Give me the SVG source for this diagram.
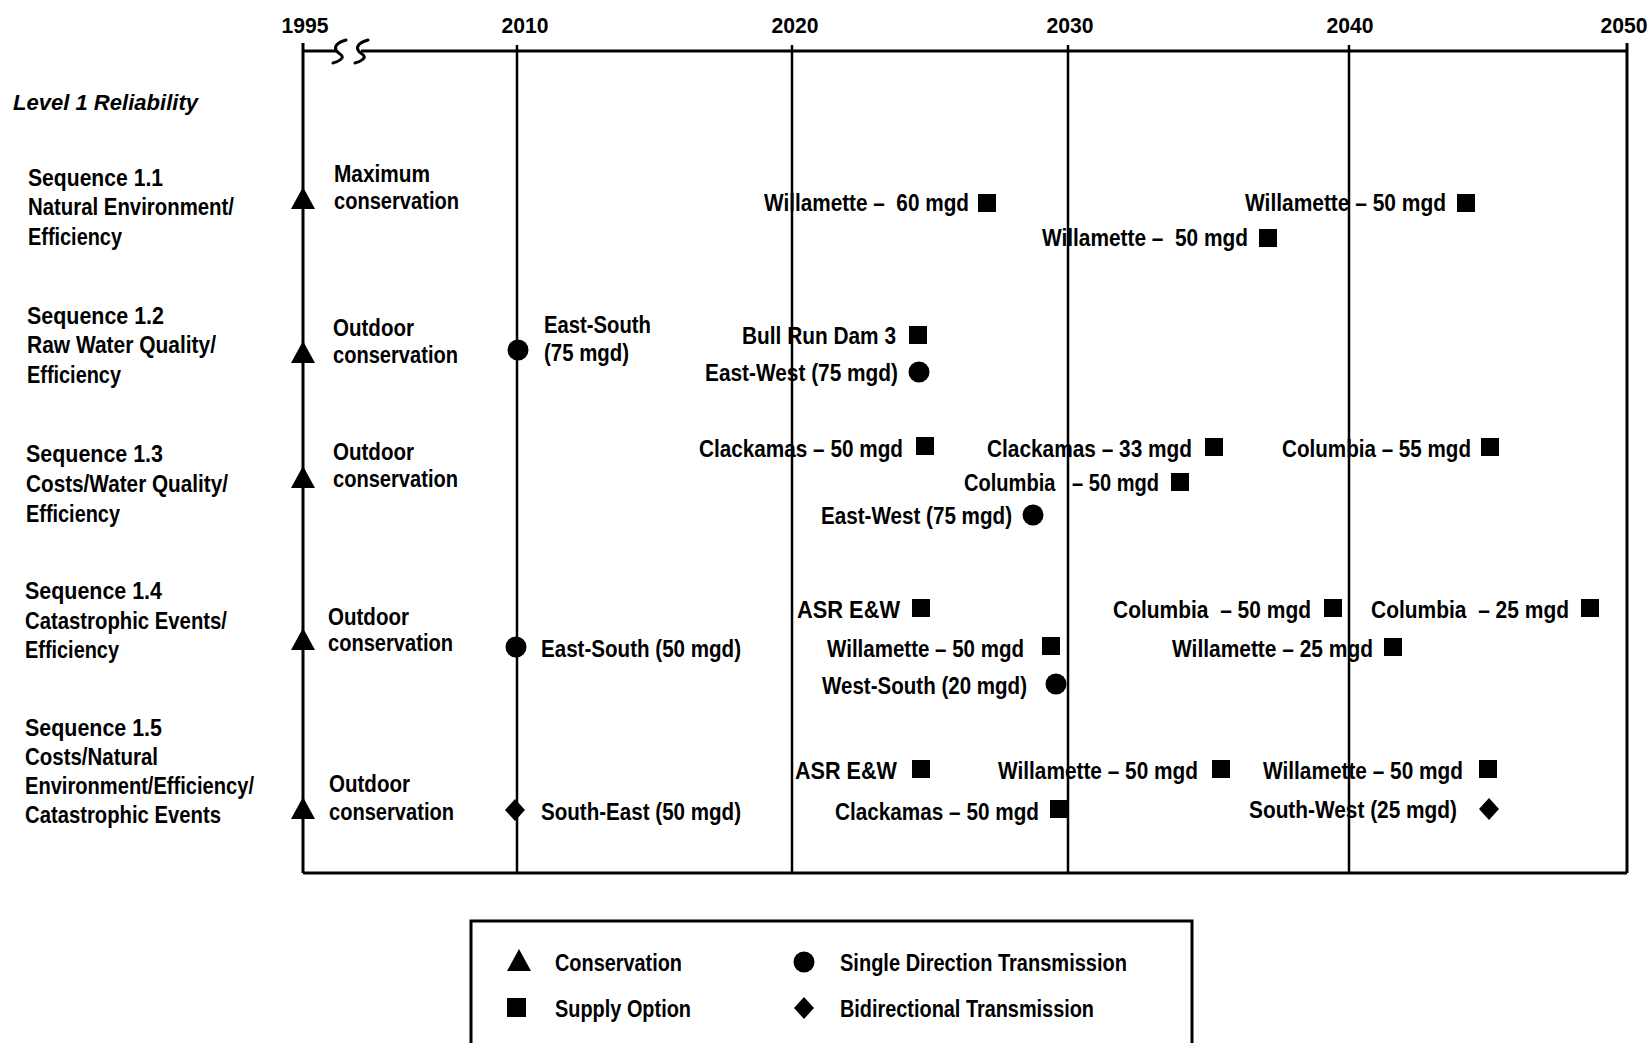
<svg xmlns="http://www.w3.org/2000/svg" xmlns:xlink="http://www.w3.org/1999/xlink" width="1650" height="1043" viewBox="0 0 1650 1043">
<style>
.t{font-family:"Liberation Sans",Arial,sans-serif;font-weight:bold;font-size:23px;fill:#000;white-space:pre}
.yr{font-size:22px;text-anchor:middle}
.it{font-style:italic;font-size:22px}
.ln{stroke:#000;stroke-width:2.5;fill:none}
.fr{stroke:#000;stroke-width:3;fill:none}
.brk{stroke:#000;stroke-width:3;fill:none;stroke-linecap:round;stroke-linejoin:round}
</style>
<defs>
<path id="tri" d="M0,-13 L12,9 L-12,9 Z" fill="#000"/>
<rect id="sq" x="-9" y="-9" width="18" height="18" fill="#000"/>
<circle id="dot" r="10.5" fill="#000"/>
<path id="dia" d="M0,-11 L10,0 L0,11 L-10,0 Z" fill="#000"/>
</defs>
<rect width="1650" height="1043" fill="#fff"/>

<g id="connectors">
  <line class="fr" x1="303" y1="43" x2="303" y2="873"/>
  <line class="fr" x1="1627" y1="43" x2="1627" y2="873"/>
  <line class="fr" x1="303" y1="873" x2="1627" y2="873"/>
  <line class="fr" x1="303" y1="51" x2="336" y2="51"/>
  <path class="brk" d="M346,40 C338,42 334,46 336,50 C338,54 344,55 342,58 C340,61 336,62 333,63"/>
  <path class="brk" d="M368,40 C360,42 356,46 358,50 C360,54 366,55 364,58 C362,61 358,62 355,63"/>
  <line class="fr" x1="361" y1="51" x2="1627" y2="51"/>
  <line class="ln" x1="517" y1="45" x2="517" y2="873"/>
  <line class="ln" x1="792" y1="45" x2="792" y2="873"/>
  <line class="ln" x1="1068" y1="45" x2="1068" y2="873"/>
  <line class="ln" x1="1349" y1="45" x2="1349" y2="873"/>
</g>

<g id="axis-years">
  <text class="t yr" x="305" y="33" textLength="47" lengthAdjust="spacingAndGlyphs">1995</text>
  <text class="t yr" x="525" y="33" textLength="47" lengthAdjust="spacingAndGlyphs">2010</text>
  <text class="t yr" x="795" y="33" textLength="47" lengthAdjust="spacingAndGlyphs">2020</text>
  <text class="t yr" x="1070" y="33" textLength="47" lengthAdjust="spacingAndGlyphs">2030</text>
  <text class="t yr" x="1350" y="33" textLength="47" lengthAdjust="spacingAndGlyphs">2040</text>
  <text class="t yr" x="1624" y="33" textLength="47" lengthAdjust="spacingAndGlyphs">2050</text>
</g>

<g id="title">
  <text class="t it" x="13" y="110" textLength="185" lengthAdjust="spacingAndGlyphs">Level 1 Reliability</text>
</g>

<g id="seq-1-1">
  <text class="t" x="28" y="186" textLength="135" lengthAdjust="spacingAndGlyphs">Sequence 1.1</text>
  <text class="t" x="28" y="215" textLength="206" lengthAdjust="spacingAndGlyphs">Natural Environment/</text>
  <text class="t" x="28" y="245" textLength="94" lengthAdjust="spacingAndGlyphs">Efficiency</text>
</g>
<g id="seq-1-2">
  <text class="t" x="27" y="324" textLength="137" lengthAdjust="spacingAndGlyphs">Sequence 1.2</text>
  <text class="t" x="27" y="353" textLength="189" lengthAdjust="spacingAndGlyphs">Raw Water Quality/</text>
  <text class="t" x="27" y="383" textLength="94" lengthAdjust="spacingAndGlyphs">Efficiency</text>
</g>
<g id="seq-1-3">
  <text class="t" x="26" y="462" textLength="137" lengthAdjust="spacingAndGlyphs">Sequence 1.3</text>
  <text class="t" x="26" y="492" textLength="202" lengthAdjust="spacingAndGlyphs">Costs/Water Quality/</text>
  <text class="t" x="26" y="522" textLength="94" lengthAdjust="spacingAndGlyphs">Efficiency</text>
</g>
<g id="seq-1-4">
  <text class="t" x="25" y="599" textLength="137" lengthAdjust="spacingAndGlyphs">Sequence 1.4</text>
  <text class="t" x="25" y="629" textLength="202" lengthAdjust="spacingAndGlyphs">Catastrophic Events/</text>
  <text class="t" x="25" y="658" textLength="94" lengthAdjust="spacingAndGlyphs">Efficiency</text>
</g>
<g id="seq-1-5">
  <text class="t" x="25" y="736" textLength="137" lengthAdjust="spacingAndGlyphs">Sequence 1.5</text>
  <text class="t" x="25" y="765" textLength="133" lengthAdjust="spacingAndGlyphs">Costs/Natural</text>
  <text class="t" x="25" y="794" textLength="229" lengthAdjust="spacingAndGlyphs">Environment/Efficiency/</text>
  <text class="t" x="25" y="823" textLength="196" lengthAdjust="spacingAndGlyphs">Catastrophic Events</text>
</g>

<!-- Row 1 -->
<g id="r1-conservation">
  <use href="#tri" x="303" y="200"/>
  <text class="t" x="334" y="182" textLength="96" lengthAdjust="spacingAndGlyphs">Maximum</text>
  <text class="t" x="334" y="209" textLength="125" lengthAdjust="spacingAndGlyphs">conservation</text>
</g>
<g id="r1-willamette-60">
  <text class="t" x="764" y="211" textLength="205" lengthAdjust="spacingAndGlyphs">Willamette –  60 mgd</text>
  <use href="#sq" x="987" y="203"/>
</g>
<g id="r1-willamette-50a">
  <text class="t" x="1042" y="246" textLength="206" lengthAdjust="spacingAndGlyphs">Willamette –  50 mgd</text>
  <use href="#sq" x="1268" y="238"/>
</g>
<g id="r1-willamette-50b">
  <text class="t" x="1245" y="211" textLength="201" lengthAdjust="spacingAndGlyphs">Willamette – 50 mgd</text>
  <use href="#sq" x="1466" y="203"/>
</g>

<!-- Row 2 -->
<g id="r2-conservation">
  <use href="#tri" x="303" y="354"/>
  <text class="t" x="333" y="336" textLength="81" lengthAdjust="spacingAndGlyphs">Outdoor</text>
  <text class="t" x="333" y="363" textLength="125" lengthAdjust="spacingAndGlyphs">conservation</text>
</g>
<g id="r2-east-south">
  <use href="#dot" x="518" y="350"/>
  <text class="t" x="544" y="333" textLength="107" lengthAdjust="spacingAndGlyphs">East-South</text>
  <text class="t" x="544" y="361" textLength="85" lengthAdjust="spacingAndGlyphs">(75 mgd)</text>
</g>
<g id="r2-bull-run">
  <text class="t" x="742" y="344" textLength="154" lengthAdjust="spacingAndGlyphs">Bull Run Dam 3</text>
  <use href="#sq" x="918" y="335"/>
</g>
<g id="r2-east-west">
  <text class="t" x="705" y="381" textLength="193" lengthAdjust="spacingAndGlyphs">East-West (75 mgd)</text>
  <use href="#dot" x="919" y="372"/>
</g>

<!-- Row 3 -->
<g id="r3-conservation">
  <use href="#tri" x="303" y="479"/>
  <text class="t" x="333" y="460" textLength="81" lengthAdjust="spacingAndGlyphs">Outdoor</text>
  <text class="t" x="333" y="487" textLength="125" lengthAdjust="spacingAndGlyphs">conservation</text>
</g>
<g id="r3-clackamas-50">
  <text class="t" x="699" y="457" textLength="204" lengthAdjust="spacingAndGlyphs">Clackamas – 50 mgd</text>
  <use href="#sq" x="925" y="446"/>
</g>
<g id="r3-clackamas-33">
  <text class="t" x="987" y="457" textLength="205" lengthAdjust="spacingAndGlyphs">Clackamas – 33 mgd</text>
  <use href="#sq" x="1214" y="447"/>
</g>
<g id="r3-columbia-55">
  <text class="t" x="1282" y="457" textLength="189" lengthAdjust="spacingAndGlyphs">Columbia – 55 mgd</text>
  <use href="#sq" x="1490" y="447"/>
</g>
<g id="r3-columbia-50">
  <text class="t" x="964" y="491" textLength="195" lengthAdjust="spacingAndGlyphs">Columbia   – 50 mgd</text>
  <use href="#sq" x="1180" y="482"/>
</g>
<g id="r3-east-west">
  <text class="t" x="821" y="524" textLength="191" lengthAdjust="spacingAndGlyphs">East-West (75 mgd)</text>
  <use href="#dot" x="1033" y="515"/>
</g>

<!-- Row 4 -->
<g id="r4-conservation">
  <use href="#tri" x="303" y="641"/>
  <text class="t" x="328" y="625" textLength="81" lengthAdjust="spacingAndGlyphs">Outdoor</text>
  <text class="t" x="328" y="651" textLength="125" lengthAdjust="spacingAndGlyphs">conservation</text>
</g>
<g id="r4-east-south">
  <use href="#dot" x="516" y="647"/>
  <text class="t" x="541" y="657" textLength="200" lengthAdjust="spacingAndGlyphs">East-South (50 mgd)</text>
</g>
<g id="r4-asr">
  <text class="t" x="797" y="618" textLength="103" lengthAdjust="spacingAndGlyphs">ASR E&amp;W</text>
  <use href="#sq" x="921" y="608"/>
</g>
<g id="r4-willamette-50">
  <text class="t" x="827" y="657" textLength="197" lengthAdjust="spacingAndGlyphs">Willamette – 50 mgd</text>
  <use href="#sq" x="1051" y="646"/>
</g>
<g id="r4-west-south">
  <text class="t" x="822" y="694" textLength="205" lengthAdjust="spacingAndGlyphs">West-South (20 mgd)</text>
  <use href="#dot" x="1056" y="684"/>
</g>
<g id="r4-columbia-50">
  <text class="t" x="1113" y="618" textLength="198" lengthAdjust="spacingAndGlyphs">Columbia  – 50 mgd</text>
  <use href="#sq" x="1333" y="608"/>
</g>
<g id="r4-columbia-25">
  <text class="t" x="1371" y="618" textLength="198" lengthAdjust="spacingAndGlyphs">Columbia  – 25 mgd</text>
  <use href="#sq" x="1590" y="608"/>
</g>
<g id="r4-willamette-25">
  <text class="t" x="1172" y="657" textLength="201" lengthAdjust="spacingAndGlyphs">Willamette – 25 mgd</text>
  <use href="#sq" x="1393" y="647"/>
</g>

<!-- Row 5 -->
<g id="r5-conservation">
  <use href="#tri" x="303" y="810"/>
  <text class="t" x="329" y="792" textLength="81" lengthAdjust="spacingAndGlyphs">Outdoor</text>
  <text class="t" x="329" y="820" textLength="125" lengthAdjust="spacingAndGlyphs">conservation</text>
</g>
<g id="r5-south-east">
  <use href="#dia" x="515" y="810"/>
  <text class="t" x="541" y="820" textLength="200" lengthAdjust="spacingAndGlyphs">South-East (50 mgd)</text>
</g>
<g id="r5-asr">
  <text class="t" x="795" y="779" textLength="102" lengthAdjust="spacingAndGlyphs">ASR E&amp;W</text>
  <use href="#sq" x="921" y="769"/>
</g>
<g id="r5-clackamas-50">
  <text class="t" x="835" y="820" textLength="204" lengthAdjust="spacingAndGlyphs">Clackamas – 50 mgd</text>
  <use href="#sq" x="1059" y="809"/>
</g>
<g id="r5-willamette-50a">
  <text class="t" x="998" y="779" textLength="200" lengthAdjust="spacingAndGlyphs">Willamette – 50 mgd</text>
  <use href="#sq" x="1221" y="769"/>
</g>
<g id="r5-willamette-50b">
  <text class="t" x="1263" y="779" textLength="200" lengthAdjust="spacingAndGlyphs">Willamette – 50 mgd</text>
  <use href="#sq" x="1488" y="769"/>
</g>
<g id="r5-south-west">
  <text class="t" x="1249" y="818" textLength="208" lengthAdjust="spacingAndGlyphs">South-West (25 mgd)</text>
  <use href="#dia" x="1489" y="809"/>
</g>

<!-- Legend -->
<g id="legend">
  <path class="fr" d="M471,1050 L471,921 L1192,921 L1192,1050"/>
  <use href="#tri" x="519" y="962"/>
  <text class="t" x="555" y="971" textLength="127" lengthAdjust="spacingAndGlyphs">Conservation</text>
  <rect x="507" y="998" width="19" height="19" fill="#000"/>
  <text class="t" x="555" y="1017" textLength="136" lengthAdjust="spacingAndGlyphs">Supply Option</text>
  <use href="#dot" x="804" y="962"/>
  <text class="t" x="840" y="971" textLength="287" lengthAdjust="spacingAndGlyphs">Single Direction Transmission</text>
  <use href="#dia" x="804" y="1008"/>
  <text class="t" x="840" y="1017" textLength="254" lengthAdjust="spacingAndGlyphs">Bidirectional Transmission</text>
</g>
</svg>
